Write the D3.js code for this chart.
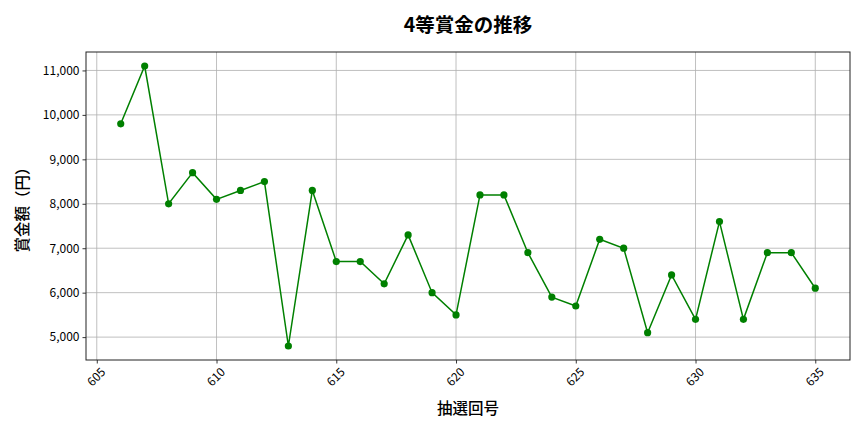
<!DOCTYPE html>
<html>
<head>
<meta charset="utf-8">
<script src="https://cdn.jsdelivr.net/npm/d3@7"></script>
<style>
  body { margin: 0; background: #fff; }
  svg text { font-family: "Noto Sans CJK JP", "Noto Sans", sans-serif; }
</style>
</head>
<body>
<div id="chart"></div>
<script>
// 抽選回号
var draws = [606, 607, 608, 609, 610, 611, 612, 613, 614, 615,
             616, 617, 618, 619, 620, 621, 622, 623, 624, 625,
             626, 627, 628, 629, 630, 631, 632, 633, 634, 635];
// 4等賞金 (円)
var prizes = [9800, 11100, 8000, 8700, 8100, 8300, 8500, 4800, 8300, 6700,
              6700, 6200, 7300, 6000, 5500, 8200, 8200, 6900, 5900, 5700,
              7200, 7000, 5100, 6400, 5400, 7600, 5400, 6900, 6900, 6100];
var xTicks = [605, 610, 615, 620, 625, 630, 635];
var yTicks = [5000, 6000, 7000, 8000, 9000, 10000, 11000];

const width = 864;
const height = 432;
const margin = {top: 52, right: 14, bottom: 72, left: 86};
const innerW = width - margin.left - margin.right;
const innerH = height - margin.top - margin.bottom;

var svg = d3.select('#chart').append('svg')
    .attr('width', width).attr('height', height);

// matplotlib style 5% padding
var xmin = d3.min(draws), xmax = d3.max(draws);
var ymin = d3.min(prizes), ymax = d3.max(prizes);
var xpad = (xmax - xmin) * 0.05, ypad = (ymax - ymin) * 0.05;

var x = d3.scaleLinear().domain([xmin - xpad, xmax + xpad]).range([0, innerW]);
var y = d3.scaleLinear().domain([ymin - ypad, ymax + ypad]).range([innerH, 0]);

var g = svg.append('g').attr('transform', 'translate(' + margin.left + ',' + margin.top + ')');

// grid
g.append('g').selectAll('line.vx').data(xTicks).enter().append('line')
    .attr('x1', d => x(d)).attr('x2', d => x(d))
    .attr('y1', 0).attr('y2', innerH)
    .attr('stroke', '#b0b0b0').attr('stroke-width', 0.8);
g.append('g').selectAll('line.hy').data(yTicks).enter().append('line')
    .attr('x1', 0).attr('x2', innerW)
    .attr('y1', d => y(d)).attr('y2', d => y(d))
    .attr('stroke', '#b0b0b0').attr('stroke-width', 0.8);

// axes
var xAxis = g.append('g').attr('transform', 'translate(0,' + innerH + ')')
    .call(d3.axisBottom(x).tickValues(xTicks).tickFormat(d3.format('d')).tickSizeOuter(0).tickSize(3.5));
// rotated labels, centred under the tick like matplotlib rotation=45
xAxis.selectAll('text')
    .attr('font-size', 12).attr('fill', '#000')
    .attr('text-anchor', 'middle')
    .attr('x', -1).attr('y', 17).attr('dy', '0.35em')
    .attr('transform', 'rotate(-45,-1,17)');

var yAxis = g.append('g')
    .call(d3.axisLeft(y).tickValues(yTicks).tickFormat(d3.format(',')).tickSizeOuter(0).tickSize(3.5));
yAxis.selectAll('text').attr('font-size', 12).attr('fill', '#000');

[xAxis, yAxis].forEach(a => {
  a.select('.domain').remove();
  a.selectAll('.tick line').attr('stroke', '#000').attr('stroke-width', 0.8);
});

// frame
g.append('rect').attr('width', innerW).attr('height', innerH)
    .attr('fill', 'none').attr('stroke', '#222').attr('stroke-width', 1);

// line + markers
var line = d3.line().x((d, i) => x(draws[i])).y(d => y(d));
g.append('path').datum(prizes)
    .attr('d', line).attr('fill', 'none')
    .attr('stroke', 'green').attr('stroke-width', 1.5);
g.selectAll('circle').data(prizes).enter().append('circle')
    .attr('cx', (d, i) => x(draws[i])).attr('cy', d => y(d))
    .attr('r', 3.6).attr('fill', 'green');

// labels
svg.append('text').attr('x', margin.left + innerW / 2).attr('y', 32)
    .attr('text-anchor', 'middle').attr('font-size', 19.5).attr('font-weight', 'bold')
    .text('4等賞金の推移');
svg.append('text').attr('x', margin.left + innerW / 2).attr('y', 414)
    .attr('text-anchor', 'middle').attr('font-size', 15.5).attr('font-weight', 500)
    .text('抽選回号');
svg.append('text')
    .attr('transform', 'translate(28,' + (margin.top + innerH / 2) + ') rotate(-90)')
    .attr('text-anchor', 'middle').attr('font-size', 15.5).attr('font-weight', 500)
    .text('賞金額（円）');
</script>
</body>
</html>
